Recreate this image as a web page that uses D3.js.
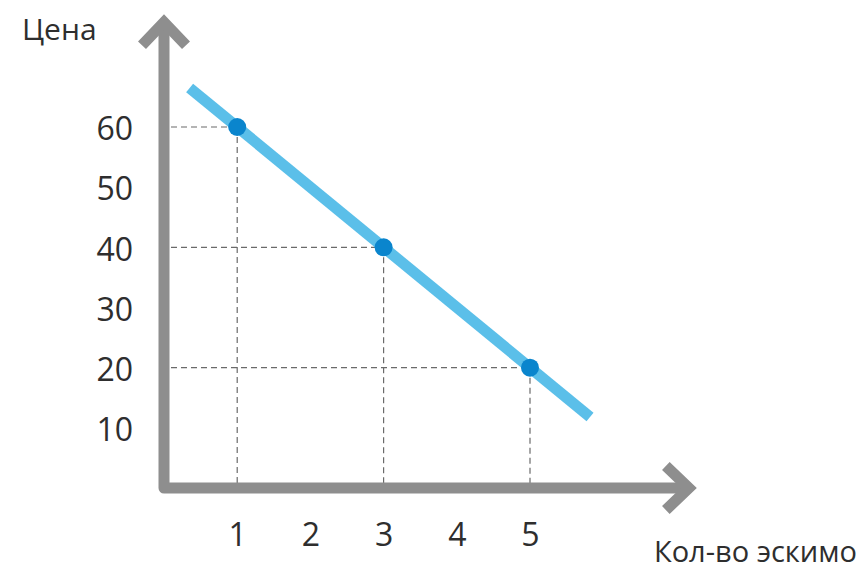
<!DOCTYPE html>
<html>
<head>
<meta charset="utf-8">
<script src="https://cdn.jsdelivr.net/npm/d3@7"></script>
<style>
  html, body { margin: 0; padding: 0; background: #fff; }
  svg { display: block; }
  text { font-family: "Open Sans", "Noto Sans", sans-serif; fill: #2e2e2e; }
</style>
</head>
<body>
<svg id="chart" width="861" height="569"></svg>
<script>
// Demand schedule: quantity of ice cream vs. price
const quantities = [1, 3, 5];
const prices = [60, 40, 20];

// Demand line endpoints (quantity, price)
const demandQ = [0.35, 5.82];
const demandP = [66.5, 11.8];

// Tick labels
const xTicks = [1, 2, 3, 4, 5];
const yTicks = [10, 20, 30, 40, 50, 60];

// Axis extents (where the arrowhead vertices sit)
const axisMaxQ = 7.17;
const axisMaxP = 77.4;

const yTitle = "Цена";
const xTitle = "Кол-во эскимо";

const svg = d3.select("#chart");

const x = d3.scaleLinear().domain([0, 5]).range([164, 530]);
const y = d3.scaleLinear().domain([0, 60]).range([488, 127]);

const axisColor = "#8e8e8e";
const axisWidth = 11;

// Guide dashes from each point to both axes
const guides = svg.append("g")
  .attr("stroke", "#6a6a6a")
  .attr("stroke-width", 1.2)
  .attr("stroke-dasharray", "6,4")
  .attr("fill", "none");

quantities.forEach((q, i) => {
  guides.append("line")
    .attr("x1", x(0) + 7).attr("y1", y(prices[i]))
    .attr("x2", x(q)).attr("y2", y(prices[i]));
  guides.append("line")
    .attr("x1", x(q)).attr("y1", y(prices[i]))
    .attr("x2", x(q)).attr("y2", y(0) - 5);
});

// Main axes: one L-shaped path plus arrowheads
const line = d3.line();
svg.append("path")
  .attr("d", line([[x(0), y(axisMaxP)], [x(0), y(0)], [x(axisMaxQ), y(0)]]))
  .attr("fill", "none")
  .attr("stroke", axisColor)
  .attr("stroke-width", axisWidth)
  .attr("stroke-linejoin", "round");

const tipY = [x(0), y(axisMaxP)];
svg.append("path")
  .attr("d", line([[tipY[0] - 22, tipY[1] + 23], tipY, [tipY[0] + 22, tipY[1] + 23]]))
  .attr("fill", "none")
  .attr("stroke", axisColor)
  .attr("stroke-width", axisWidth)
  .attr("stroke-linejoin", "miter");

const tipX = [x(axisMaxQ), y(0)];
svg.append("path")
  .attr("d", line([[tipX[0] - 23, tipX[1] - 22], tipX, [tipX[0] - 23, tipX[1] + 22]]))
  .attr("fill", "none")
  .attr("stroke", axisColor)
  .attr("stroke-width", axisWidth)
  .attr("stroke-linejoin", "miter");

// Demand line
svg.append("path")
  .attr("d", line(demandQ.map((q, i) => [x(q), y(demandP[i])])))
  .attr("fill", "none")
  .attr("stroke", "#5bbfe9")
  .attr("stroke-width", 11);

// Points on the demand line
svg.append("g")
  .selectAll("circle")
  .data(quantities)
  .join("circle")
  .attr("cx", d => x(d))
  .attr("cy", (d, i) => y(prices[i]))
  .attr("r", 9)
  .attr("fill", "#0a85cd");

// Tick labels
const xAxis = svg.append("g")
  .attr("transform", `translate(0,${y(0)})`)
  .call(d3.axisBottom(x).tickValues(xTicks).tickSize(0).tickFormat(d3.format("d")));
xAxis.select(".domain").remove();
xAxis.selectAll("text")
  .attr("y", 58).attr("dy", null)
  .style("font-size", "32px")
  .style("font-family", "'Open Sans', sans-serif")
  .attr("fill", "#2e2e2e");

const yAxis = svg.append("g")
  .attr("transform", "translate(133,0)")
  .call(d3.axisLeft(y).tickValues(yTicks).tickSize(0).tickPadding(0).tickFormat(d3.format("d")));
yAxis.select(".domain").remove();
yAxis.selectAll("text")
  .attr("dy", "0.4em")
  .style("font-size", "32px")
  .style("font-family", "'Open Sans', sans-serif")
  .attr("fill", "#2e2e2e");

// Axis titles
svg.append("text")
  .attr("x", 22).attr("y", 40)
  .style("font-size", "30px")
  .text(yTitle);

svg.append("text")
  .attr("x", 857).attr("y", 562)
  .attr("text-anchor", "end")
  .style("font-size", "29px")
  .text(xTitle);
</script>
</body>
</html>
